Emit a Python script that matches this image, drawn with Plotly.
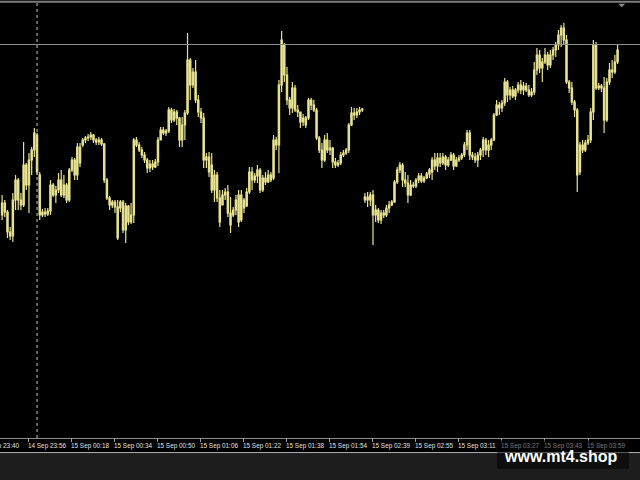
import plotly.graph_objects as go

# ---- data (1-minute bars, price in points) ----
opens = [34785,34797,34788,34768,34764,34800,34820,34800,34795,34835,34815,34840,34850,34865,34825,34785,34788,34786,34789,34815,
         34805,34810,34820,34805,34815,34800,34830,34840,34825,34853,34855,34860,34862,34863,34865,34860,34858,34860,34856,34820,
         34802,34795,34798,34793,34792,34798,34770,34794,34778,34785,34860,34855,34850,34845,34840,34832,34836,34833,34838,34860,
         34870,34867,34869,34890,34880,34888,34882,34860,34875,34887,34940,34915,34928,34900,34888,34882,34840,34843,34835,34810,
         34825,34802,34795,34805,34808,34787,34785,34790,34805,34780,34800,34794,34808,34828,34820,34824,34830,34810,34822,34818,
         34825,34822,34860,34855,34915,34955,34925,34900,34892,34912,34890,34888,34878,34882,34882,34900,34895,34890,34862,34850,
         34840,34860,34850,34852,34838,34835,34837,34845,34847,34850,34875,34887,34885,34888,34890,34800,34803,34800,34805,34785,
         34790,34780,34787,34785,34792,34795,34798,34818,34830,34835,34820,34817,34805,34815,34814,34820,34824,34819,34822,34826,
         34828,34840,34834,34842,34837,34843,34835,34840,34845,34834,34840,34842,34845,34855,34867,34845,34843,34840,34845,34850,
         34860,34850,34855,34860,34885,34895,34892,34897,34918,34905,34910,34904,34910,34915,34910,34914,34910,34905,34908,34930,
         34945,34932,34938,34945,34935,34945,34950,34955,34965,34972,34960,34918,34912,34898,34890,34828,34855,34850,34857,34860,
         34888,34955,34912,34914,34912,34880,34918,34930,34928,34938]
highs = [34805,34800,34790,34773,34807,34825,34822,34807,34858,34837,34847,34853,34872,34867,34828,34791,34792,34792,34820,34817,
         34814,34827,34830,34825,34817,34832,34843,34842,34857,34857,34862,34864,34866,34868,34866,34862,34863,34862,34857,34822,
         34804,34800,34800,34800,34800,34800,34797,34795,34797,34862,34863,34858,34853,34848,34842,34840,34840,34841,34863,34873,
         34873,34871,34893,34892,34891,34890,34883,34883,34890,34967,34942,34932,34940,34905,34892,34887,34847,34848,34847,34830,
         34828,34810,34810,34812,34815,34803,34793,34805,34810,34810,34802,34812,34833,34833,34827,34835,34832,34825,34828,34830,
         34828,34865,34863,34920,34969,34957,34933,34903,34918,34915,34895,34888,34886,34884,34902,34902,34900,34892,34864,34857,
         34865,34867,34860,34853,34842,34840,34848,34850,34852,34877,34893,34892,34892,34893,34892,34807,34808,34808,34810,34795,
         34792,34790,34790,34795,34799,34800,34820,34833,34838,34837,34828,34825,34820,34818,34822,34827,34827,34824,34828,34832,
         34843,34847,34847,34847,34847,34845,34843,34848,34847,34843,34845,34847,34858,34870,34870,34848,34847,34848,34852,34863,
         34862,34860,34862,34887,34900,34898,34900,34922,34920,34913,34914,34912,34918,34920,34918,34917,34915,34912,34938,34952,
         34950,34942,34952,34948,34950,34953,34958,34970,34975,34977,34965,34920,34918,34900,34892,34858,34860,34860,34865,34892,
         34960,34958,34917,34916,34923,34922,34937,34940,34945,34955]
lows = [34780,34783,34762,34760,34758,34790,34790,34790,34793,34810,34787,34825,34843,34825,34780,34783,34783,34784,34785,34803,
        34797,34807,34803,34802,34797,34798,34828,34820,34820,34833,34853,34857,34859,34860,34857,34855,34855,34854,34817,34800,
        34790,34792,34787,34760,34788,34767,34757,34775,34776,34777,34853,34848,34842,34837,34827,34828,34830,34832,34834,34860,
        34865,34864,34867,34877,34878,34875,34853,34853,34860,34885,34900,34912,34897,34883,34877,34832,34832,34823,34807,34798,
        34798,34773,34795,34800,34783,34767,34783,34785,34773,34778,34787,34793,34806,34810,34817,34817,34807,34808,34815,34817,
        34818,34820,34850,34827,34908,34918,34895,34885,34887,34888,34883,34872,34874,34872,34880,34890,34888,34860,34847,34832,
        34838,34847,34845,34832,34832,34833,34835,34843,34845,34847,34874,34880,34882,34885,34888,34797,34793,34794,34755,34778,
        34777,34776,34782,34783,34787,34794,34797,34816,34827,34813,34813,34797,34804,34812,34812,34817,34817,34817,34821,34822,
        34820,34830,34828,34833,34835,34830,34833,34839,34830,34833,34838,34840,34843,34850,34840,34840,34837,34833,34840,34843,
        34845,34843,34850,34859,34884,34885,34888,34894,34898,34900,34902,34900,34907,34906,34905,34908,34903,34903,34905,34925,
        34927,34918,34936,34930,34932,34940,34943,34950,34953,34955,34916,34907,34895,34883,34808,34825,34847,34848,34855,34857,
        34880,34910,34910,34908,34867,34878,34915,34922,34926,34936]
closes = [34797,34788,34768,34764,34800,34820,34800,34795,34835,34815,34840,34850,34867,34828,34785,34788,34786,34789,34815,34805,
          34810,34820,34805,34815,34800,34830,34840,34825,34853,34837,34860,34862,34863,34865,34860,34858,34860,34856,34820,34802,
          34795,34798,34793,34762,34798,34770,34794,34778,34785,34860,34855,34850,34845,34840,34832,34836,34833,34838,34860,34870,
          34867,34869,34890,34880,34888,34882,34860,34875,34887,34940,34915,34928,34900,34888,34882,34840,34843,34828,34810,34825,
          34802,34778,34805,34808,34787,34775,34790,34800,34778,34805,34792,34808,34828,34820,34824,34830,34810,34822,34818,34825,
          34820,34860,34855,34915,34960,34925,34900,34892,34912,34890,34888,34878,34882,34875,34900,34895,34890,34862,34850,34840,
          34860,34850,34852,34838,34835,34837,34845,34847,34850,34875,34887,34885,34888,34890,34891,34803,34800,34805,34785,34790,
          34780,34787,34785,34792,34795,34798,34818,34830,34835,34820,34817,34805,34815,34814,34820,34824,34819,34822,34826,34830,
          34840,34834,34842,34837,34843,34835,34840,34845,34834,34840,34842,34845,34855,34867,34845,34843,34840,34845,34850,34860,
          34850,34855,34860,34885,34895,34892,34897,34918,34905,34910,34904,34910,34915,34910,34914,34910,34905,34908,34930,34945,
          34932,34938,34945,34935,34945,34950,34955,34965,34972,34960,34918,34912,34898,34890,34825,34855,34850,34857,34860,34888,
          34955,34912,34914,34912,34880,34918,34930,34928,34938,34950]

tick_bars = [10, 26, 42, 58, 74, 90, 106, 122, 138, 154, 170, 186, 202, 218]
tick_labels = ["14 Sep 23:56", "15 Sep 00:18", "15 Sep 00:34", "15 Sep 00:50", "15 Sep 01:06",
               "15 Sep 01:22", "15 Sep 01:38", "15 Sep 01:54", "15 Sep 02:39", "15 Sep 02:55",
               "15 Sep 03:11", "15 Sep 03:27", "15 Sep 03:43", "15 Sep 03:59"]
cut_label = "14 Sep 23:40"
level_price = 34955.5
separator_bar = 13
price_min, price_max = 34562, 35000

bars = list(range(len(opens)))

BAR_LINE = "#e6e290"
BAR_FILL = "#f8f5ae"

fig = go.Figure()
fig.add_trace(go.Candlestick(
    x=bars, open=opens, high=highs, low=lows, close=closes,
    increasing=dict(line=dict(color=BAR_LINE, width=1.2), fillcolor=BAR_FILL),
    decreasing=dict(line=dict(color=BAR_LINE, width=1.2), fillcolor=BAR_FILL),
    whiskerwidth=0, showlegend=False, hoverinfo="skip",
))

TICK_FONT = dict(family="Liberation Sans, Arial, sans-serif", size=6.4, color="#e0e0e0")

fig.update_layout(
    width=640, height=480,
    margin=dict(l=0, r=0, t=0, b=42),
    paper_bgcolor="black", plot_bgcolor="black",
    showlegend=False,
    xaxis=dict(
        range=[-0.781, 237.35], rangeslider=dict(visible=False),
        showgrid=False, zeroline=False,
        showline=True, linecolor="#8c8c8c", linewidth=1,
        tickmode="array", tickvals=tick_bars, ticktext=tick_labels,
        ticks="outside", ticklen=3, tickcolor="#a0a0a0", tickwidth=1,
        ticklabelposition="outside right", tickangle=0, ticklabelshift=-2,
        ticklabelstandoff=1,
        tickfont=TICK_FONT,
    ),
    yaxis=dict(
        range=[price_min, price_max], showgrid=False, zeroline=False,
        showticklabels=False, ticks="",
    ),
    shapes=[
        # bottom window strip
        dict(type="rect", xref="paper", yref="paper", x0=0, x1=1, y0=-0.0332, y1=-0.0959,
             fillcolor="#1d1d1d", line=dict(width=0), layer="below"),
        dict(type="line", xref="paper", yref="paper", x0=0, x1=1, y0=-0.0332, y1=-0.0332,
             line=dict(color="#b0b0b0", width=1)),
        # top border
        dict(type="line", xref="paper", yref="paper", x0=0, x1=1, y0=0.9961, y1=0.9961,
             line=dict(color="#7c7c7c", width=2)),
        # price level line
        dict(type="line", xref="paper", yref="y", x0=0, x1=1, y0=level_price, y1=level_price,
             line=dict(color="#8e8e8e", width=1)),
        # period separator
        dict(type="line", xref="x", yref="paper", x0=separator_bar, x1=separator_bar, y0=0, y1=0.994,
             line=dict(color="#c8c8c8", width=1, dash="dot")),
        # small marker triangle at top right
        dict(type="path", xref="paper", yref="paper",
             path="M 0.966 0.9915 L 0.977 0.9915 L 0.9715 0.9835 Z",
             fillcolor="#8a8a8a", line=dict(width=0)),
        # watermark box
        dict(type="rect", xref="paper", yref="paper", x0=497/640, x1=629/640,
             y0=(438-440)/438, y1=(438-469)/438,
             fillcolor="rgba(0,0,0,0.5)", line=dict(width=0), layer="above"),
    ],
    annotations=[
        dict(text=cut_label, x=-21/640, xref="paper", y=-0.0175, yref="paper",
             xanchor="left", yanchor="middle", showarrow=False, font=TICK_FONT),
        dict(text="www.mt4.shop", x=561/640, xref="paper", y=(438-456.5)/438, yref="paper",
             xanchor="center", yanchor="middle", showarrow=False,
             font=dict(family="Liberation Sans, Arial, sans-serif", size=16, color="white", weight=700)),
    ],
)

fig.write_html("out.html", config={"displayModeBar": False},
               post_script="document.body.style.margin='0';document.body.style.overflow='hidden';")
